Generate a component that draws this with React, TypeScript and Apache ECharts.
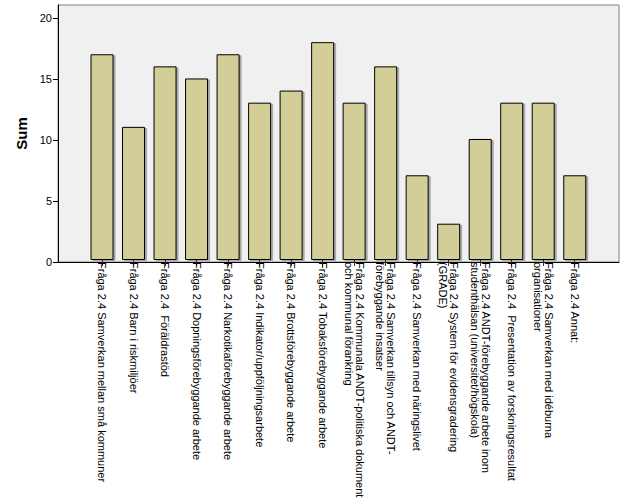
import React, { useEffect, useRef } from "react";
import * as echarts from "echarts";

const categories: string[] = [
  "Fråga 2.4 Samverkan mellan små kommuner",
  "Fråga 2.4 Barn i riskmiljöer",
  "Fråga 2.4  Föräldrastöd",
  "Fråga 2.4 Dopningsförebyggande arbete",
  "Fråga 2.4 Narkotikaförebyggande arbete",
  "Fråga 2.4 Indikator/uppföljningsarbete",
  "Fråga 2.4 Brottsförebyggande arbete",
  "Fråga 2.4 Tobaksförebyggande arbete",
  "Fråga 2.4 Kommunala ANDT-politiska dokument\noch kommunal förankring",
  "Fråga 2.4 Samverkan tillsyn och ANDT-\nförebyggande insatser",
  "Fråga 2.4 Samverkan med näringslivet",
  "Fråga 2.4 System för evidensgradering\n(GRADE)",
  "Fråga 2.4 ANDT-förebyggande arbete inom\nstudenthälsan (universitet/högskola)",
  "Fråga 2.4  Presentation av forskningsresultat",
  "Fråga 2.4 Samverkan med idéburna\norganisationer",
  "Fråga 2.4 Annat:",
];

const sumValues: number[] = [17, 11, 16, 15, 17, 13, 14, 18, 13, 16, 7, 3, 10, 13, 13, 7];

const yTicks: number[] = [0, 5, 10, 15, 20];

const FONT = "'Liberation Sans', Arial, sans-serif";
const Y_MAX = 21.07;

export default function App() {
  const ref = useRef<HTMLDivElement>(null);

  useEffect(() => {
    if (!ref.current) return;
    const chart = echarts.init(ref.current, undefined, { renderer: "svg" });
    chart.setOption({
      animation: false,
      backgroundColor: "#ffffff",
      grid: [
        {
          left: 58,
          right: 7,
          top: 5,
          bottom: 239,
          show: true,
          backgroundColor: "#f0f0f0",
          borderColor: "#808080",
          borderWidth: 1,
        },
        {
          left: 86.25,
          right: 35.5,
          top: 5,
          bottom: 239,
        },
      ],
      xAxis: [
        {
          gridIndex: 0,
          type: "value",
          min: 0,
          max: 1,
          axisLine: { show: true, lineStyle: { color: "#000", width: 1 } },
          axisTick: { show: false },
          axisLabel: { show: false },
          splitLine: { show: false },
        },
        {
          gridIndex: 1,
          type: "category",
          data: categories,
          boundaryGap: true,
          axisLine: { show: false },
          axisTick: {
            show: true,
            alignWithLabel: true,
            length: 6,
            lineStyle: { color: "#333", width: 1 },
          },
          axisLabel: {
            interval: 0,
            rotate: -90,
            margin: 2,
            color: "#000",
            fontFamily: FONT,
            fontSize: 11,
            lineHeight: 11,
          },
          splitLine: { show: false },
        },
      ],
      yAxis: [
        {
          gridIndex: 0,
          type: "value",
          min: 0,
          max: Y_MAX,
          name: "Sum",
          nameLocation: "middle",
          nameGap: 28,
          nameTextStyle: {
            fontFamily: FONT,
            fontSize: 15,
            fontWeight: "bold",
            color: "#000",
          },
          axisLine: { show: true, lineStyle: { color: "#000", width: 1 } },
          axisTick: {
            show: true,
            length: 5,
            customValues: yTicks,
            lineStyle: { color: "#000" },
          },
          axisLabel: {
            customValues: yTicks,
            margin: 6,
            color: "#000",
            fontFamily: FONT,
            fontSize: 11,
          },
          splitLine: { show: false },
        },
        {
          gridIndex: 1,
          type: "value",
          min: 0,
          max: Y_MAX,
          show: false,
          splitLine: { show: false },
        },
      ],
      series: [
        {
          type: "bar",
          xAxisIndex: 1,
          yAxisIndex: 1,
          data: sumValues,
          barWidth: 23,
          itemStyle: {
            color: "#d3ce97",
            borderColor: "#000",
            borderWidth: 1,
            shadowColor: "rgba(0,0,0,0.3)",
            shadowOffsetX: 2,
            shadowOffsetY: 1,
            shadowBlur: 1,
          },
        },
      ],
    });
    return () => chart.dispose();
  }, []);

  return <div ref={ref} style={{ width: 626, height: 501, position: "absolute", left: 0, top: 0 }} />;
}
